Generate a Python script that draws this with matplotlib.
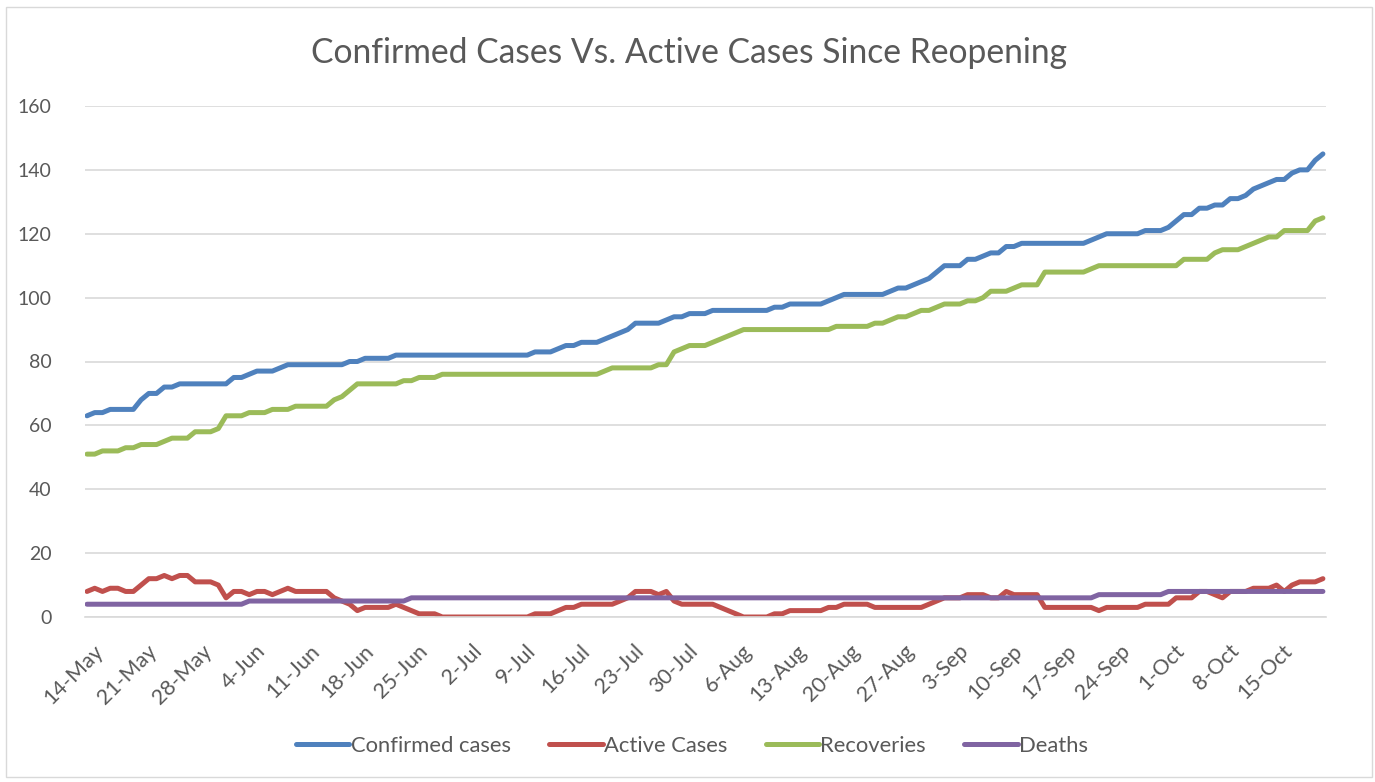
import numpy as np
import pandas as pd
import matplotlib
matplotlib.use("Agg")
import matplotlib.pyplot as plt
import matplotlib.dates as mdates
from matplotlib.transforms import ScaledTranslation
from matplotlib.patches import Rectangle

plt.rcParams['font.family'] = ['Lato', 'DejaVu Sans']

# daily values since 14-May
start_date = "2020-05-14"
confirmed = [63, 64, 64, 65, 65, 65, 65, 68, 70, 70,
             72, 72, 73, 73, 73, 73, 73, 73, 73, 75,
             75, 76, 77, 77, 77, 78, 79, 79, 79, 79,
             79, 79, 79, 79, 80, 80, 81, 81, 81, 81,
             82, 82, 82, 82, 82, 82, 82, 82, 82, 82,
             82, 82, 82, 82, 82, 82, 82, 82, 83, 83,
             83, 84, 85, 85, 86, 86, 86, 87, 88, 89,
             90, 92, 92, 92, 92, 93, 94, 94, 95, 95,
             95, 96, 96, 96, 96, 96, 96, 96, 96, 97,
             97, 98, 98, 98, 98, 98, 99, 100, 101, 101,
             101, 101, 101, 101, 102, 103, 103, 104, 105, 106,
             108, 110, 110, 110, 112, 112, 113, 114, 114, 116,
             116, 117, 117, 117, 117, 117, 117, 117, 117, 117,
             118, 119, 120, 120, 120, 120, 120, 121, 121, 121,
             122, 124, 126, 126, 128, 128, 129, 129, 131, 131,
             132, 134, 135, 136, 137, 137, 139, 140, 140, 143,
             145]
active = [8, 9, 8, 9, 9, 8, 8, 10, 12, 12,
          13, 12, 13, 13, 11, 11, 11, 10, 6, 8,
          8, 7, 8, 8, 7, 8, 9, 8, 8, 8,
          8, 8, 6, 5, 4, 2, 3, 3, 3, 3,
          4, 3, 2, 1, 1, 1, 0, 0, 0, 0,
          0, 0, 0, 0, 0, 0, 0, 0, 1, 1,
          1, 2, 3, 3, 4, 4, 4, 4, 4, 5,
          6, 8, 8, 8, 7, 8, 5, 4, 4, 4,
          4, 4, 3, 2, 1, 0, 0, 0, 0, 1,
          1, 2, 2, 2, 2, 2, 3, 3, 4, 4,
          4, 4, 3, 3, 3, 3, 3, 3, 3, 4,
          5, 6, 6, 6, 7, 7, 7, 6, 6, 8,
          7, 7, 7, 7, 3, 3, 3, 3, 3, 3,
          3, 2, 3, 3, 3, 3, 3, 4, 4, 4,
          4, 6, 6, 6, 8, 8, 7, 6, 8, 8,
          8, 9, 9, 9, 10, 8, 10, 11, 11, 11,
          12]
recoveries = [51, 51, 52, 52, 52, 53, 53, 54, 54, 54,
              55, 56, 56, 56, 58, 58, 58, 59, 63, 63,
              63, 64, 64, 64, 65, 65, 65, 66, 66, 66,
              66, 66, 68, 69, 71, 73, 73, 73, 73, 73,
              73, 74, 74, 75, 75, 75, 76, 76, 76, 76,
              76, 76, 76, 76, 76, 76, 76, 76, 76, 76,
              76, 76, 76, 76, 76, 76, 76, 77, 78, 78,
              78, 78, 78, 78, 79, 79, 83, 84, 85, 85,
              85, 86, 87, 88, 89, 90, 90, 90, 90, 90,
              90, 90, 90, 90, 90, 90, 90, 91, 91, 91,
              91, 91, 92, 92, 93, 94, 94, 95, 96, 96,
              97, 98, 98, 98, 99, 99, 100, 102, 102, 102,
              103, 104, 104, 104, 108, 108, 108, 108, 108, 108,
              109, 110, 110, 110, 110, 110, 110, 110, 110, 110,
              110, 110, 112, 112, 112, 112, 114, 115, 115, 115,
              116, 117, 118, 119, 119, 121, 121, 121, 121, 124,
              125]
deaths = [4, 4, 4, 4, 4, 4, 4, 4, 4, 4,
          4, 4, 4, 4, 4, 4, 4, 4, 4, 4,
          4, 5, 5, 5, 5, 5, 5, 5, 5, 5,
          5, 5, 5, 5, 5, 5, 5, 5, 5, 5,
          5, 5, 6, 6, 6, 6, 6, 6, 6, 6,
          6, 6, 6, 6, 6, 6, 6, 6, 6, 6,
          6, 6, 6, 6, 6, 6, 6, 6, 6, 6,
          6, 6, 6, 6, 6, 6, 6, 6, 6, 6,
          6, 6, 6, 6, 6, 6, 6, 6, 6, 6,
          6, 6, 6, 6, 6, 6, 6, 6, 6, 6,
          6, 6, 6, 6, 6, 6, 6, 6, 6, 6,
          6, 6, 6, 6, 6, 6, 6, 6, 6, 6,
          6, 6, 6, 6, 6, 6, 6, 6, 6, 6,
          6, 7, 7, 7, 7, 7, 7, 7, 7, 7,
          8, 8, 8, 8, 8, 8, 8, 8, 8, 8,
          8, 8, 8, 8, 8, 8, 8, 8, 8, 8,
          8]

series_names = ["Confirmed cases", "Active Cases", "Recoveries", "Deaths"]
colors = ["#4F81BD", "#C0504D", "#9BBB59", "#8064A2"]

dates = pd.date_range(start_date, periods=len(confirmed), freq="D")

W, H = 1375, 782
fig = plt.figure(figsize=(W / 100, H / 100), dpi=100)
fig.patches.append(Rectangle((6 / W, 1 - 777 / H), 1366 / W, 770 / H,
                             transform=fig.transFigure, fill=False,
                             edgecolor="#D9D9D9", linewidth=1.0))

ax = fig.add_axes([85 / W, 1 - 617 / H, (1326 - 85) / W, (617 - 106) / H])

for name, vals, c in zip(series_names, [confirmed, active, recoveries, deaths], colors):
    ax.plot(dates, vals, color=c, linewidth=3.6, label=name,
            solid_capstyle="round", solid_joinstyle="round")

ax.set_ylim(0, 160)
ax.set_yticks(np.arange(0, 161, 20))
x0 = mdates.date2num(dates[0])
x1 = mdates.date2num(dates[-1])
ax.set_xlim(x0 - 0.26, x1 + 0.4)
ax.set_xticks(dates[::7])
ax.xaxis.set_major_formatter(mdates.DateFormatter("%-d-%b"))

ax.grid(axis="y", color="#D9D9D9", linewidth=1.2)
ax.set_axisbelow(True)
for s in ["top", "right", "left"]:
    ax.spines[s].set_visible(False)
ax.spines["bottom"].set_color("#D9D9D9")
ax.spines["bottom"].set_linewidth(1.2)
ax.tick_params(axis="both", length=0, colors="#595959")
ax.tick_params(axis="y", pad=24, labelsize=14)
ax.tick_params(axis="x", pad=17, labelsize=15.5)

offset = ScaledTranslation(6 / 100, 0, fig.dpi_scale_trans)
for lbl in ax.get_xticklabels():
    lbl.set_rotation(45)
    lbl.set_ha("right")
    lbl.set_va("top")
    lbl.set_rotation_mode("anchor")
    lbl.set_transform(lbl.get_transform() + offset)

fig.text(689 / W, 1 - 53 / H, "Confirmed Cases Vs. Active Cases Since Reopening",
         ha="center", va="center", fontsize=24.2, color="#595959")

ax.legend(loc="center", bbox_to_anchor=(692 / W, 1 - 746 / H),
          bbox_transform=fig.transFigure, ncol=4, frameon=False,
          fontsize=15.8, handlelength=2.45, handletextpad=0.05,
          columnspacing=1.75, labelcolor="#595959")

fig.savefig("out.png", dpi=100)
